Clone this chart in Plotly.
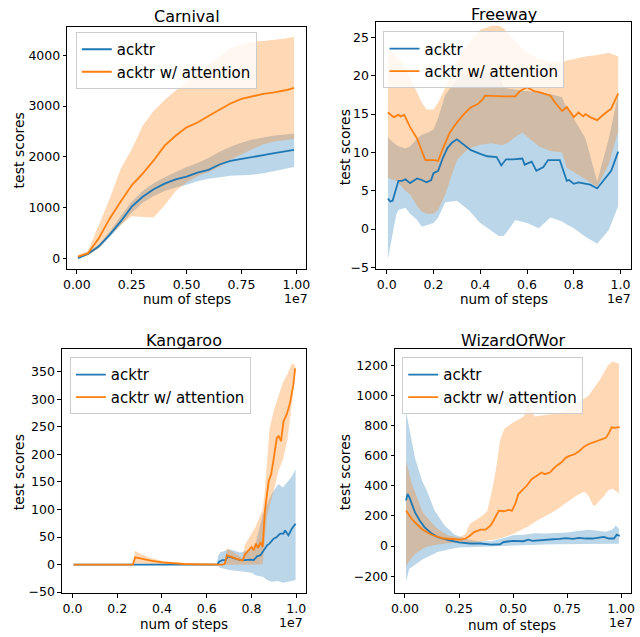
import plotly.graph_objects as go

# ---------------- data (x in units of 1e7 steps) ----------------
# Carnival
car_x = [0.005, 0.05, 0.1, 0.15, 0.2, 0.25, 0.3, 0.35, 0.4, 0.45, 0.5, 0.55, 0.6, 0.65, 0.7, 0.75, 0.8, 0.85, 0.9, 0.95, 0.99]
car_blue = [10, 90, 240, 470, 730, 1020, 1215, 1364, 1474, 1558, 1610, 1690, 1745, 1850, 1920, 1955, 1990, 2035, 2075, 2104, 2136]
car_blue_hi = [20, 105, 270, 530, 830, 1120, 1330, 1480, 1600, 1700, 1800, 1880, 1980, 2100, 2200, 2280, 2340, 2380, 2420, 2440, 2460]
car_blue_lo = [0, 75, 210, 420, 650, 900, 1100, 1230, 1330, 1400, 1450, 1520, 1570, 1600, 1630, 1640, 1650, 1680, 1720, 1770, 1800]
car_orng = [40, 100, 400, 790, 1120, 1440, 1670, 1930, 2220, 2415, 2580, 2675, 2805, 2935, 3050, 3140, 3195, 3240, 3270, 3310, 3357]
car_orng_hi = [70, 150, 660, 1180, 1766, 2150, 2610, 2900, 3117, 3300, 3487, 3650, 3812, 3980, 4136, 4220, 4266, 4280, 4300, 4330, 4364]
car_orng_lo = [10, 60, 200, 450, 660, 830, 820, 810, 1050, 1330, 1500, 1620, 1700, 1800, 1950, 2050, 2150, 2250, 2300, 2330, 2350]

# Freeway
fw_band_x = [0.005, 0.02, 0.04, 0.05, 0.08, 0.1, 0.13, 0.15, 0.17, 0.2, 0.22, 0.25, 0.3, 0.35, 0.4, 0.45, 0.48, 0.5, 0.52, 0.55, 0.58, 0.6, 0.65, 0.7, 0.75, 0.77, 0.8, 0.85, 0.9, 0.95, 0.99]
fw_blue_hi = [12, 11.5, 11, 10.8, 10.5, 10.8, 11.8, 12.3, 12.5, 13.0, 14.5, 17.5, 19.5, 20.3, 20.5, 20.3, 20.0, 18.5, 18.3, 18.2, 18.0, 18.0, 17.8, 17.6, 17.2, 15.7, 14.4, 11.8, 6.2, 11.8, 17.6]
fw_blue_lo = [-3.9, -1.5, 1.8, 2.5, 2.8, 2.0, 1.2, 0.3, 0.5, 0.8, 1.5, 3.5, 3.7, 2.5, 0.8, -0.3, -0.9, -0.9, -0.1, 1.2, 1.0, 0.8, 0.1, 1.5, 1.0, 0.6, 0.1, -1.0, -1.9, -0.1, 3.0]
fw_orng_hi = [23.6, 23.2, 22.6, 22.3, 21.0, 19.8, 17.8, 16.5, 15.6, 15.6, 16.5, 18.4, 21.9, 24.2, 26.0, 26.5, 26.5, 26.2, 25.5, 24.5, 23.5, 23.0, 22.2, 21.8, 21.8, 22.0, 22.2, 22.5, 22.7, 23.0, 22.5]
fw_orng_lo = [6.7, 6.5, 6.3, 6.0, 5.0, 4.5, 3.0, 2.3, 2.0, 2.0, 2.5, 4.5, 9.0, 10.5, 11.0, 11.2, 11.0, 11.0, 11.3, 12.0, 12.6, 12.0, 10.8, 10.2, 10.0, 8.0, 7.5, 6.5, 5.5, 8.5, 12.8]
fw_blue_x = [0.005, 0.015, 0.025, 0.04, 0.05, 0.065, 0.08, 0.1, 0.115, 0.13, 0.15, 0.17, 0.19, 0.2, 0.22, 0.24, 0.26, 0.28, 0.3, 0.33, 0.36, 0.4, 0.43, 0.47, 0.49, 0.51, 0.54, 0.58, 0.59, 0.62, 0.64, 0.67, 0.69, 0.74, 0.77, 0.78, 0.8, 0.82, 0.87, 0.9, 0.94, 0.96, 0.99]
fw_blue = [4.0, 3.6, 3.7, 5.2, 6.3, 6.3, 6.5, 6.0, 6.3, 6.6, 6.4, 6.1, 6.4, 7.3, 7.6, 9.3, 10.6, 11.3, 11.7, 11.0, 10.3, 9.8, 9.5, 9.4, 8.3, 9.1, 9.1, 9.2, 8.4, 8.8, 7.6, 8.1, 9.0, 9.0, 6.3, 6.4, 5.9, 6.1, 5.8, 5.3, 6.8, 7.6, 10.1]
fw_orng_x = [0.005, 0.02, 0.03, 0.05, 0.06, 0.075, 0.1, 0.13, 0.15, 0.165, 0.2, 0.22, 0.24, 0.27, 0.3, 0.33, 0.36, 0.39, 0.41, 0.42, 0.5, 0.55, 0.57, 0.6, 0.63, 0.66, 0.7, 0.72, 0.75, 0.77, 0.8, 0.82, 0.84, 0.85, 0.87, 0.9, 0.93, 0.96, 0.99]
fw_orng = [15.2, 14.8, 14.6, 14.9, 14.7, 14.9, 13.3, 11.8, 10.1, 9.0, 9.0, 8.9, 10.5, 12.6, 13.9, 15.0, 15.9, 16.3, 16.9, 17.4, 17.3, 17.3, 18.0, 18.5, 18.0, 17.8, 17.4, 16.5, 15.4, 15.9, 14.6, 15.2, 14.7, 15.0, 14.6, 14.2, 15.0, 15.7, 17.7]

# Kangaroo
kg_orng_x = [0.005, 0.27, 0.28, 0.3, 0.35, 0.4, 0.45, 0.5, 0.55, 0.6, 0.67, 0.68, 0.69, 0.72, 0.76, 0.77, 0.78, 0.8, 0.81, 0.82, 0.83, 0.84, 0.85, 0.86, 0.877, 0.888, 0.9, 0.913, 0.922, 0.932, 0.943, 0.957, 0.972, 0.987, 0.995]
kg_orng = [0, 0, 13, 11, 7, 4, 2, 1, 0.5, 0, 0, 1, 17, 12, 7, 18, 23, 32, 26, 38, 30, 41, 32, 98, 152, 164, 194, 230, 233, 224, 260, 272, 293, 326, 356]
kg_orng_band_x = [0.005, 0.27, 0.28, 0.3, 0.35, 0.4, 0.45, 0.5, 0.55, 0.6, 0.67, 0.68, 0.69, 0.72, 0.76, 0.77, 0.8, 0.82, 0.84, 0.85, 0.86, 0.87, 0.88, 0.9, 0.92, 0.94, 0.96, 0.98, 0.995]
kg_orng_hi = [0, 0, 25, 20, 12, 7, 4, 2, 1, 0, 0, 2, 30, 22, 12, 35, 55, 70, 90, 100, 135, 190, 245, 280, 305, 330, 345, 365, 362]
kg_orng_lo = [0, 0, 2, 2, 1, 0.5, 0, 0, 0, 0, 0, 0, 0, 0, 0, 0, 0, 0, 0, 0, 50, 90, 105, 135, 170, 190, 225, 290, 345]
kg_blue_x = [0.005, 0.648, 0.655, 0.67, 0.685, 0.693, 0.71, 0.73, 0.75, 0.77, 0.795, 0.81, 0.825, 0.84, 0.855, 0.87, 0.88, 0.899, 0.913, 0.928, 0.943, 0.95, 0.965, 0.98, 0.997]
kg_blue = [0, 0, 5, 8, 8, 15, 13, 11, 8, 8, 9, 8, 15, 17, 26, 35, 38, 47, 50, 56, 56, 62, 53, 65, 74]
kg_blue_band_x = [0.005, 0.645, 0.65, 0.66, 0.7, 0.75, 0.8, 0.82, 0.85, 0.87, 0.89, 0.92, 0.94, 0.965, 0.98, 0.997]
kg_blue_hi = [0, 0, 15, 22, 28, 22, 28, 40, 90, 110, 128, 146, 140, 152, 160, 173]
kg_blue_lo = [0, 0, -3, -6, -10, -12, -15, -20, -22, -28, -31, -30, -33, -31, -30, -28]

# WizardOfWor
wz_blue_x = [0.005, 0.012, 0.02, 0.03, 0.046, 0.068, 0.09, 0.12, 0.15, 0.2, 0.25, 0.3, 0.35, 0.4, 0.44, 0.457, 0.5, 0.548, 0.57, 0.59, 0.625, 0.655, 0.685, 0.715, 0.745, 0.776, 0.807, 0.837, 0.868, 0.898, 0.92, 0.944, 0.967, 0.98, 0.994]
wz_blue = [302, 346, 324, 280, 225, 170, 126, 87, 60, 39, 25, 17, 17, 10, 12, 27, 34, 32, 42, 34, 39, 45, 45, 48, 52, 48, 54, 50, 50, 56, 61, 50, 50, 76, 67]
wz_blue_band_x = [0.005, 0.02, 0.046, 0.08, 0.1, 0.137, 0.15, 0.183, 0.2, 0.228, 0.25, 0.3, 0.35, 0.4, 0.45, 0.5, 0.55, 0.6, 0.65, 0.7, 0.75, 0.8, 0.85, 0.9, 0.93, 0.96, 0.975, 0.99]
wz_blue_hi = [893, 780, 586, 430, 370, 236, 210, 137, 115, 76, 65, 40, 32, 32, 50, 72, 75, 85, 83, 85, 90, 100, 108, 100, 95, 110, 137, 115]
wz_blue_lo = [-235, -150, -125, -90, -75, -49, -40, -28, -23, -15, -10, -5, -3, -2, 0, 2, 5, 8, 10, 12, 12, 15, 17, 17, 15, 15, 15, 15]
wz_orng_x = [0.005, 0.015, 0.03, 0.053, 0.076, 0.107, 0.137, 0.18, 0.23, 0.26, 0.28, 0.297, 0.32, 0.35, 0.373, 0.396, 0.41, 0.434, 0.457, 0.48, 0.495, 0.51, 0.525, 0.548, 0.563, 0.586, 0.609, 0.632, 0.647, 0.67, 0.685, 0.7, 0.723, 0.745, 0.761, 0.784, 0.807, 0.822, 0.845, 0.868, 0.898, 0.929, 0.944, 0.956, 0.967, 0.982, 0.994]
wz_orng = [236, 214, 181, 148, 115, 87, 67, 50, 43, 43, 50, 65, 93, 109, 109, 137, 170, 235, 231, 240, 235, 279, 345, 378, 400, 444, 466, 488, 477, 488, 510, 532, 554, 587, 598, 609, 630, 652, 674, 685, 700, 718, 751, 788, 784, 790, 790]
wz_orng_band_x = [0.005, 0.03, 0.05, 0.08, 0.1, 0.15, 0.2, 0.25, 0.28, 0.3, 0.35, 0.38, 0.4, 0.42, 0.44, 0.46, 0.5, 0.55, 0.57, 0.6, 0.65, 0.7, 0.75, 0.8, 0.83, 0.85, 0.87, 0.88, 0.9, 0.92, 0.94, 0.96, 0.99]
wz_orng_hi = [564, 420, 345, 230, 192, 115, 70, 56, 80, 148, 192, 230, 350, 500, 700, 780, 820, 860, 950, 860, 870, 880, 910, 960, 980, 1000, 1040, 1060, 1100, 1150, 1200, 1225, 1210]
wz_orng_lo = [-130, -80, -50, -20, -5, 10, 20, 25, 25, 20, 30, 35, 40, 45, 50, 60, 80, 115, 130, 160, 200, 240, 290, 340, 360, 330, 270, 268, 300, 330, 370, 380, 350]

titles = ["Carnival", "Freeway", "Kangaroo", "WizardOfWor"]
labels = ["acktr", "acktr w/ attention"]

# ---------------- styling ----------------
BLUE = "#1f77b4"
ORANGE = "#ff7f0e"
BLUE_FILL = "rgba(31,119,180,0.3)"
ORANGE_FILL = "rgba(255,127,14,0.3)"
FONT = "DejaVu Sans"
W, H = 640, 637

panels = [
    dict(ax="", blue=(car_x, car_blue), bb=(car_x, car_blue_hi, car_blue_lo),
         orng=(car_x, car_orng), ob=(car_x, car_orng_hi, car_orng_lo)),
    dict(ax="2", blue=(fw_blue_x, fw_blue), bb=(fw_band_x, fw_blue_hi, fw_blue_lo),
         orng=(fw_orng_x, fw_orng), ob=(fw_band_x, fw_orng_hi, fw_orng_lo)),
    dict(ax="3", blue=(kg_blue_x, kg_blue), bb=(kg_blue_band_x, kg_blue_hi, kg_blue_lo),
         orng=(kg_orng_x, kg_orng), ob=(kg_orng_band_x, kg_orng_hi, kg_orng_lo)),
    dict(ax="4", blue=(wz_blue_x, wz_blue), bb=(wz_blue_band_x, wz_blue_hi, wz_blue_lo),
         orng=(wz_orng_x, wz_orng), ob=(wz_orng_band_x, wz_orng_hi, wz_orng_lo)),
]

fig = go.Figure()
for i, p in enumerate(panels):
    xa, ya = "x" + p["ax"], "y" + p["ax"]
    leg = "legend" + p["ax"]
    series = [(p["blue"], p["bb"], BLUE, BLUE_FILL, labels[0]),
              (p["orng"], p["ob"], ORANGE, ORANGE_FILL, labels[1])]
    # shaded bands first
    for _, (bx, bhi, blo), col, fcol, lab in series:
        fig.add_trace(go.Scatter(x=list(bx) + list(bx)[::-1], y=list(bhi) + list(blo)[::-1],
                                 mode="lines", fill="toself", fillcolor=fcol,
                                 line=dict(width=0, color=fcol), showlegend=False,
                                 xaxis=xa, yaxis=ya, hoverinfo="skip"))
    # mean lines on top
    for (lx, ly), _, col, fcol, lab in series:
        fig.add_trace(go.Scatter(x=lx, y=ly, mode="lines", line=dict(color=col, width=1.8),
                                 name=lab, xaxis=xa, yaxis=ya, legend=leg, showlegend=True,
                                 hoverinfo="skip"))

def px2paper(px, py):
    return px / W, 1 - py / H

# axis geometry (pixel boxes) and ranges
boxes = [(64, 27, 306, 272), (376.7, 22.7, 635, 271.7), (58.7, 352.7, 305.7, 599), (396, 352.3, 635, 598.7)]
xranges = [[-0.044, 1.045], [-0.046, 1.045], [-0.047, 1.043], [-0.046, 1.046]]
yranges = [[-214, 4559], [-5.22, 26.94], [-52.3, 390.6], [-312, 1308]]
xt = [
    ([0, 0.25, 0.5, 0.75, 1.0], ["0.00", "0.25", "0.50", "0.75", "1.00"]),
    ([0, 0.2, 0.4, 0.6, 0.8, 1.0], ["0.0", "0.2", "0.4", "0.6", "0.8", "1.0"]),
    ([0, 0.2, 0.4, 0.6, 0.8, 1.0], ["0.0", "0.2", "0.4", "0.6", "0.8", "1.0"]),
    ([0, 0.25, 0.5, 0.75, 1.0], ["0.00", "0.25", "0.50", "0.75", "1.00"]),
]
yt_vals = [
    [0, 1000, 2000, 3000, 4000],
    [-5, 0, 5, 10, 15, 20, 25],
    [-50, 0, 50, 100, 150, 200, 250, 300, 350],
    [-200, 0, 200, 400, 600, 800, 1000, 1200],
]

def fmt(v):
    return str(v).replace("-", "\u2212")

axis_common = dict(showline=True, mirror=True, linecolor="black", linewidth=1,
                   ticks="outside", ticklen=3.5, tickwidth=1, tickcolor="black",
                   showgrid=False, zeroline=False,
                   tickfont=dict(family=FONT, size=12.5, color="black"))
layout = dict(width=W, height=H, margin=dict(l=0, r=0, t=0, b=0, pad=0),
              paper_bgcolor="white", plot_bgcolor="white",
              font=dict(family=FONT, color="black"), showlegend=True)
legend_tl = [(72.7, 32.3), (384.3, 31.7), (66.7, 360.7), (403.3, 360.7)]
for i, (x0, y0, x1, y1) in enumerate(boxes):
    s = "" if i == 0 else str(i + 1)
    layout["xaxis" + s] = dict(axis_common, domain=[x0 / W, x1 / W], range=xranges[i],
                               anchor="y" + s, tickvals=xt[i][0], ticktext=xt[i][1])
    layout["yaxis" + s] = dict(axis_common, domain=[1 - y1 / H, 1 - y0 / H], range=yranges[i],
                               anchor="x" + s, tickvals=yt_vals[i],
                               ticktext=[fmt(v) for v in yt_vals[i]])
    lx, ly = px2paper(*legend_tl[i])
    layout["legend" + s] = dict(x=lx, y=ly, xanchor="left", yanchor="top",
                                bgcolor="rgba(255,255,255,0.8)", bordercolor="#cccccc",
                                borderwidth=1, font=dict(family=FONT, size=15, color="black"),
                                itemwidth=30)

fig.update_layout(**layout)

ann = []
def add_text(text, px, py, size, xanchor="center", angle=0):
    x, y = px2paper(px, py)
    ann.append(dict(text=text, x=x, y=y, xref="paper", yref="paper", showarrow=False,
                    xanchor=xanchor, yanchor="middle", textangle=angle, borderpad=0,
                    font=dict(family=FONT, size=size, color="black")))

title_pos = [(185, 17), (505.9, 15), (182.2, 344), (515.5, 344)]
ylab_pos = [(15, 152), (345, 149), (15, 477), (345, 477)]
xlab_pos = [(185.8, 302), (506, 302), (182.5, 630), (514.6, 631)]
off_pos = [(309, 301), (636, 301), (304, 628), (638, 628)]
for i in range(4):
    add_text(titles[i], *title_pos[i], 16)
    add_text("test scores", *ylab_pos[i], 14, angle=-90)
    add_text("num of steps", *xlab_pos[i], 13.5)
    add_text("1e7", *off_pos[i], 12.5, xanchor="right")
fig.update_layout(annotations=ann)

fig.write_html("out.html", config={"displayModeBar": False},
               post_script="document.body.style.margin='0';document.body.style.overflow='hidden';")
